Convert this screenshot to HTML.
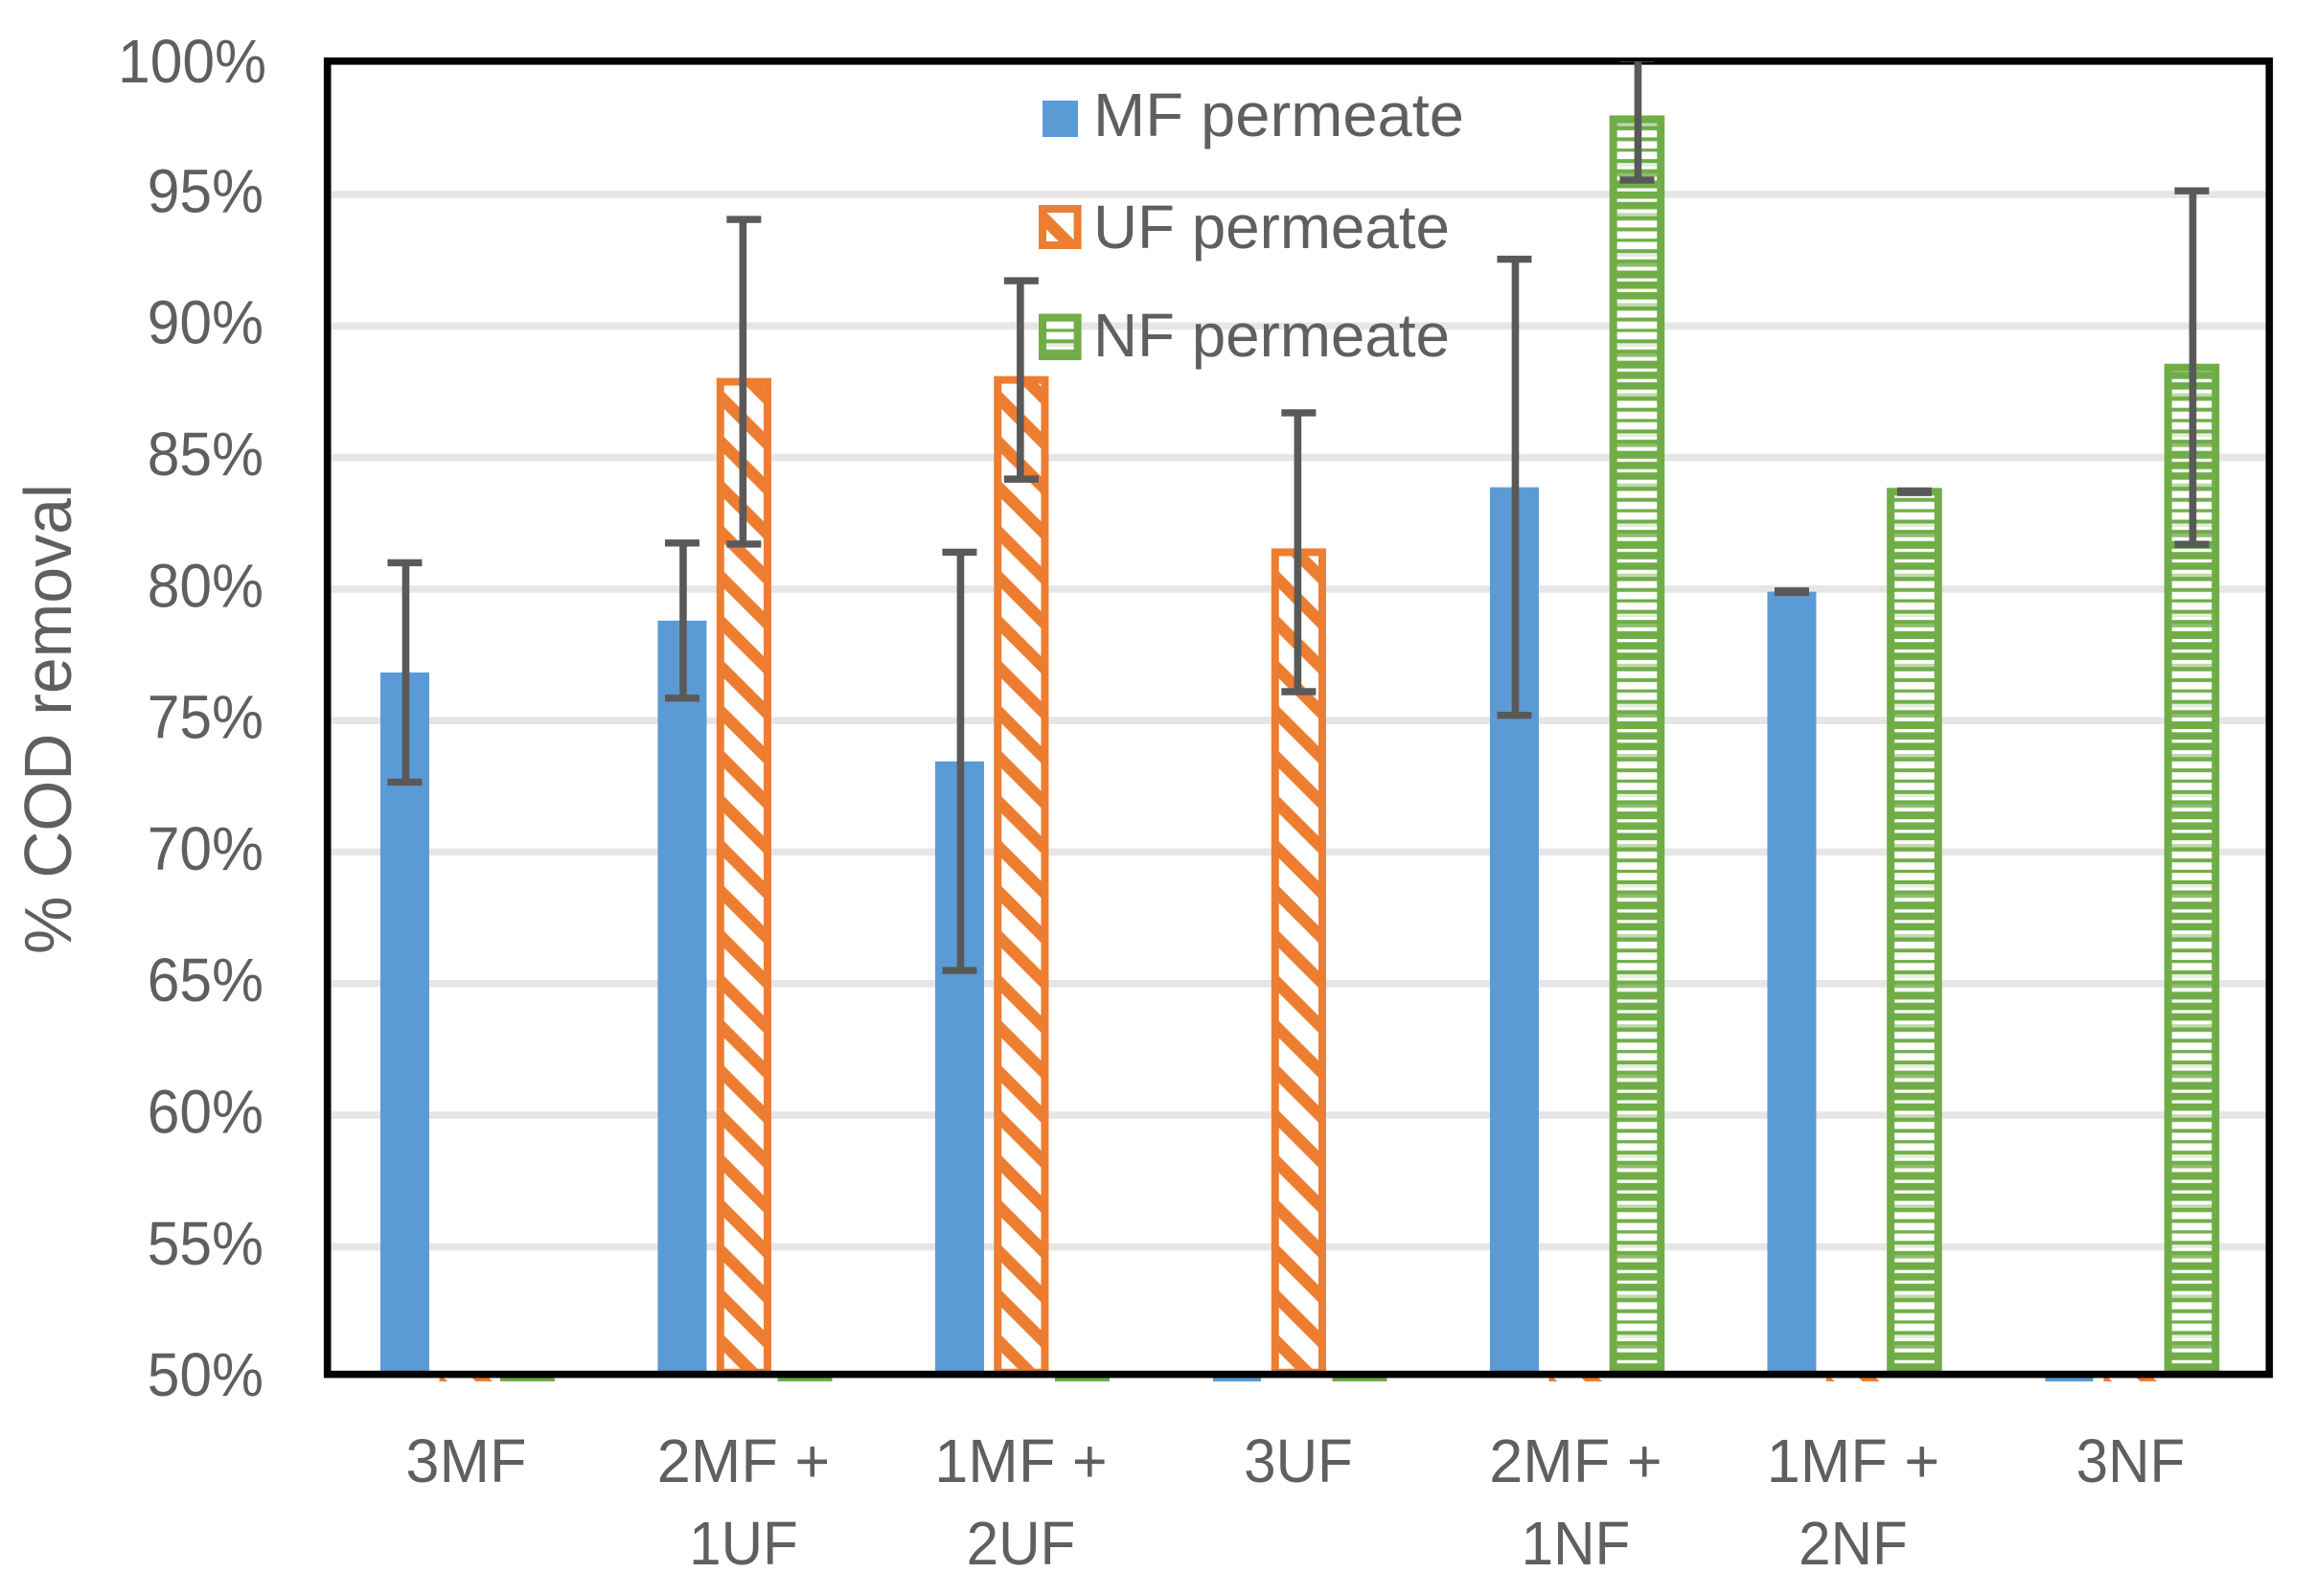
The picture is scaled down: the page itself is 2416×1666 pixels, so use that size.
<!DOCTYPE html>
<html lang="en">
<head>
<meta charset="utf-8">
<title>% COD removal chart</title>
<style>
html,body{margin:0;padding:0;background:#fff;}
svg{display:block;}
text{font-family:"Liberation Sans",sans-serif;fill:#5f5f5f;}
</style>
</head>
<body>
<svg id="chart" xmlns="http://www.w3.org/2000/svg" width="2416" height="1666" viewBox="0 0 2416 1666">
  <defs>
    <pattern id="nf-bands" patternUnits="userSpaceOnUse" width="60" height="94.1" patternTransform="translate(0,1325.67)">
      <rect width="60" height="94.1" fill="#70ad47"/>
      <rect y="0" width="60" height="3.3" fill="#fff"/>
      <rect y="11" width="60" height="3.3" fill="#fff"/>
      <rect y="22" width="60" height="4" fill="#fff"/>
      <rect y="26" width="60" height="3.3" fill="#c0d9ae"/>
      <rect y="33.7" width="60" height="7.3" fill="#fff"/>
      <rect y="45" width="60" height="7.7" fill="#fff"/>
      <rect y="56" width="60" height="7.7" fill="#fff"/>
      <rect y="67.7" width="60" height="3.3" fill="#e4efdc"/>
      <rect y="71" width="60" height="3.3" fill="#fff"/>
      <rect y="78.3" width="60" height="3.7" fill="#8fbd6f"/>
      <rect y="82" width="60" height="4" fill="#fff"/>
    </pattern>
    <clipPath id="error-clip"><rect x="0" y="64" width="2416" height="1602"/></clipPath>
  </defs>

  <rect width="2416" height="1666" fill="#fff"/>
  <g id="grid"></g>
  <g id="bars"></g>
  <rect x="341.7" y="63.8" width="2026.6" height="1370.8" fill="none" stroke="#000" stroke-width="7.6"/>
  <g id="errors" clip-path="url(#error-clip)"></g>
  <g id="yticks"></g>
  <g id="xticks"></g>

  <text transform="translate(74,996) rotate(-90)" font-size="70" textLength="491" lengthAdjust="spacingAndGlyphs">% COD removal</text>

  <g id="legend">
    <g>
      <rect x="1088" y="105" width="37" height="38" fill="#5b9bd5"/>
      <text x="1141" y="142" font-size="64" textLength="387" lengthAdjust="spacingAndGlyphs">MF permeate</text>
    </g>
    <g>
      <rect id="legend-uf" x="1088" y="218" width="36.6" height="38" stroke="#ed7d31" stroke-width="8" fill="#fff"/>
      <text x="1141" y="259" font-size="64" textLength="372" lengthAdjust="spacingAndGlyphs">UF permeate</text>
    </g>
    <g>
      <rect x="1088" y="331.5" width="36.6" height="40.5" stroke="#70ad47" stroke-width="8" fill="url(#nf-bands)"/>
      <text x="1141" y="372" font-size="64" textLength="372" lengthAdjust="spacingAndGlyphs">NF permeate</text>
    </g>
  </g>
</svg>
<script>
const categories = [["3MF"], ["2MF +", "1UF"], ["1MF +", "2UF"], ["3UF"], ["2MF +", "1NF"], ["1MF +", "2NF"], ["3NF"]];
const mfValues = [76.83, 78.8, 73.45, 0, 83.87, 79.9, 0];
const ufValues = [0, 87.88, 87.95, 81.4, 0, 0, 0];
const nfValues = [0, 0, 0, 0, 97.86, 83.7, 88.42];
const mfErrors = [4.17, 2.95, 7.95, 0, 8.67, 0.03, 0];
const ufErrors = [0, 6.17, 3.77, 5.3, 0, 0, 0];
const nfErrors = [0, 0, 0, 0, 2.31, 0.03, 6.72];
const yTickValues = [100, 95, 90, 85, 80, 75, 70, 65, 60, 55, 50];

const SVGNS = 'http://www.w3.org/2000/svg';
const AXIS_MIN = 50;
const plotLeft = 341.7;
const categoryWidth = 289.5;
const seriesOffset = 64;

function yScale(v) { return 203 + (95 - v) * 27.46; }
function xScale(i, seriesIndex) { return plotLeft + categoryWidth * (i + 0.5) + (seriesIndex - 1) * seriesOffset; }

function make(tag, attrs, parent) {
  const el = document.createElementNS(SVGNS, tag);
  for (const k in attrs) el.setAttribute(k, attrs[k]);
  parent.appendChild(el);
  return el;
}

const defs = document.querySelector('#chart defs');
let hatchCount = 0;
function hatchFor(innerLeft) {
  const id = 'uf-hatch-' + (hatchCount++);
  const p = make('pattern', { id: id, patternUnits: 'userSpaceOnUse', width: 46.9, height: 46.9, patternTransform: 'translate(' + innerLeft + ',1403)' }, defs);
  make('rect', { width: 46.9, height: 46.9, fill: '#fff' }, p);
  make('path', { d: 'M-12,-12L59,59M-12,-58.9L59,12.1M-12,34.9L35,81.9', stroke: '#ed7d31', 'stroke-width': 12.5, fill: 'none' }, p);
  return 'url(#' + id + ')';
}

const gridG = document.getElementById('grid');
yTickValues.forEach(function (v) {
  if (v === 100 || v === AXIS_MIN) return;
  const line = make('line', { x1: 345, x2: 2365, y1: yScale(v), y2: yScale(v), stroke: '#e6e6e6', 'stroke-width': 7.6 }, gridG);
  
  
});

const barsG = document.getElementById('bars');
const errG = document.getElementById('errors');
const barBottom = yScale(AXIS_MIN) - 6;

function drawError(cx, value, err, stemShift) {
  if (!(value > AXIS_MIN)) return;
  const top = yScale(value + err);
  const bottom = yScale(value - err);
  const stem = make('line', { x1: cx + stemShift, x2: cx + stemShift, y1: top, y2: bottom, stroke: '#595959', 'stroke-width': 7.6 }, errG);
  
  
  const capTop = make('line', { x1: cx - 18, x2: cx + 18, y1: top, y2: top, stroke: '#595959', 'stroke-width': 7.4 }, errG);
  
  
  const capBottom = make('line', { x1: cx - 18, x2: cx + 18, y1: bottom, y2: bottom, stroke: '#595959', 'stroke-width': 7.4 }, errG);
  
  
}

categories.forEach(function (cat, i) {
  // MF: solid blue
  const xm = xScale(i, 0);
  if (mfValues[i] > AXIS_MIN) {
    const b = make('rect', { x: xm - 25.5, y: yScale(mfValues[i]), width: 51, height: barBottom - yScale(mfValues[i]), fill: '#5b9bd5' }, barsG);
    
    
  } else {
    const s = make('rect', { x: xm - 25, y: 1438, width: 50, height: 4, fill: '#5b9bd5' }, barsG);
    
    
  }
  // UF: diagonal hatch with orange outline
  const xu = xScale(i, 1) + 0.4;
  const hatch = hatchFor(xu - 20.6);
  if (ufValues[i] > AXIS_MIN) {
    const b = make('rect', { x: xu - 24.6, y: yScale(ufValues[i]), width: 49.2, height: barBottom - yScale(ufValues[i]), fill: hatch, stroke: '#ed7d31', 'stroke-width': 8 }, barsG);
    
    
  } else {
    const s = make('rect', { x: xu - 28.3, y: 1438, width: 56.6, height: 4, fill: hatch }, barsG);
    
    
  }
  // NF: horizontal bands with green outline
  const xn = xScale(i, 2);
  if (nfValues[i] > AXIS_MIN) {
    const b = make('rect', { x: xn - 24.8, y: yScale(nfValues[i]), width: 49.6, height: barBottom - yScale(nfValues[i]), fill: 'url(#nf-bands)', stroke: '#70ad47', 'stroke-width': 8 }, barsG);
    
    
  } else {
    const s = make('rect', { x: xn - 28.5, y: 1438, width: 57, height: 4, fill: '#70ad47' }, barsG);
    
    
  }
  drawError(xm, mfValues[i], mfErrors[i], 1);
  drawError(xu, ufValues[i], ufErrors[i], -1);
  drawError(xn, nfValues[i], nfErrors[i], 1);
});

const yG = document.getElementById('yticks');
yTickValues.forEach(function (v) {
  const baseY = yScale(v) + 18.4 + (v === 100 ? 2 : 0);
  const t = make('text', { transform: 'translate(' + (v === 100 ? 278 : 275) + ',' + baseY + ') scale(0.947,1)', 'text-anchor': 'end', 'font-size': 64 }, yG);
  
  
  t.textContent = v + '%';
});

const xG = document.getElementById('xticks');
categories.forEach(function (lines, i) {
  const cx = plotLeft + categoryWidth * (i + 0.5);
  lines.forEach(function (str, j) {
    const sx = str.indexOf('MF') >= 0 ? 0.985 : 0.94;
    const t = make('text', { transform: 'translate(' + cx + ',' + (1547 + j * 86) + ') scale(' + sx + ',1)', 'text-anchor': 'middle', 'font-size': 64 }, xG);
    
    
    t.textContent = str;
  });
});

document.getElementById('legend-uf').setAttribute('fill', hatchFor(1092));
</script>
</body>
</html>
